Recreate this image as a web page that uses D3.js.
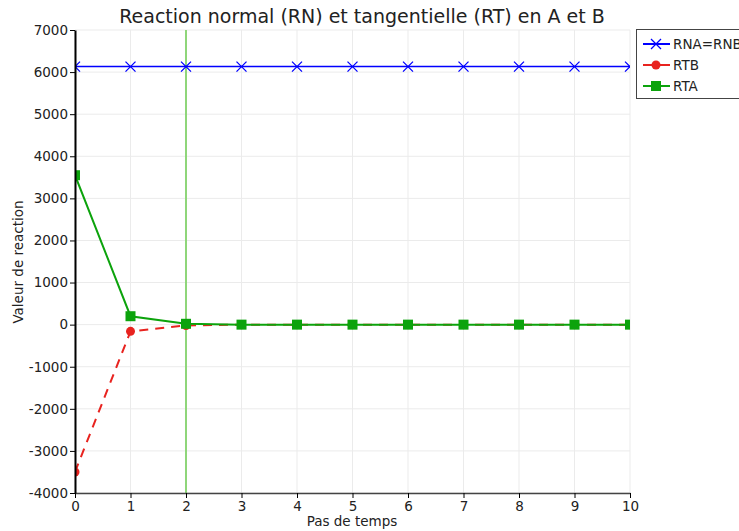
<!DOCTYPE html>
<html><head><meta charset="utf-8">
<script src="https://cdn.jsdelivr.net/npm/d3@7"></script>
<style>body{margin:0;background:#fff}svg{display:block}text{font-family:"DejaVu Sans",sans-serif}</style>
</head><body>
<script>
const steps = [0,1,2,3,4,5,6,7,8,9,10];
const rnValues = [6130,6130,6130,6130,6130,6130,6130,6130,6130,6130,6130];
const rtbValues = [-3500,-160,-20,0,0,0,0,0,0,0,0];
const rtaValues = [3550,200,20,0,0,0,0,0,0,0,0];
const yTicks = [-4000,-3000,-2000,-1000,0,1000,2000,3000,4000,5000,6000,7000];
const xTicks = [0,1,2,3,4,5,6,7,8,9,10];
const markerStep = 2;

const W=739,H=531;
const m={l:75,r:109,t:30,b:38};
const svg=d3.select("body").append("svg").attr("width",W).attr("height",H);
const x=d3.scaleLinear().domain([0,10]).range([m.l,W-m.r]);
const y=d3.scaleLinear().domain([-4000,7000]).range([H-m.b,m.t]);

svg.append("defs").append("clipPath").attr("id","clip").append("rect")
  .attr("x",m.l).attr("y",m.t).attr("width",x(10)-m.l).attr("height",y(-4000)-m.t);

// grid
const g=svg.append("g");
g.selectAll(".gx").data(xTicks).enter().append("line")
  .attr("x1",d=>x(d)).attr("x2",d=>x(d)).attr("y1",m.t).attr("y2",y(-4000))
  .attr("stroke","#ebebeb").attr("stroke-width",1);
g.selectAll(".gy").data(yTicks).enter().append("line")
  .attr("y1",d=>y(d)).attr("y2",d=>y(d)).attr("x1",m.l).attr("x2",x(10))
  .attr("stroke","#ebebeb").attr("stroke-width",1);

// vertical marker at time step
svg.append("line").attr("x1",x(markerStep)).attr("x2",x(markerStep))
  .attr("y1",m.t).attr("y2",y(-4000)).attr("stroke","#8fd67a").attr("stroke-width",2);

const plot=svg.append("g").attr("clip-path","url(#clip)");
const line=d3.line().x((d,i)=>x(steps[i])).y(d=>y(d));

// RTB
plot.append("path").datum(rtbValues).attr("d",line).attr("fill","none")
  .attr("stroke","#e8231f").attr("stroke-width",2).attr("stroke-dasharray","9,7");
plot.selectAll(".rtb").data(rtbValues).enter().append("circle")
  .attr("cx",(d,i)=>x(steps[i])).attr("cy",d=>y(d)).attr("r",4.5).attr("fill","#e8231f");

// RTA
plot.append("path").datum(rtaValues).attr("d",line).attr("fill","none")
  .attr("stroke","#0ca30c").attr("stroke-width",2);
plot.selectAll(".rta").data(rtaValues).enter().append("rect")
  .attr("x",(d,i)=>x(steps[i])-5).attr("y",d=>y(d)-5).attr("width",10).attr("height",10).attr("fill","#0ca30c");

// RN
plot.append("path").datum(rnValues).attr("d",line).attr("fill","none")
  .attr("stroke","#0000ff").attr("stroke-width",1.5);
plot.selectAll(".rn").data(rnValues).enter().append("path")
  .attr("d",(d,i)=>{const cx=x(steps[i]),cy=y(d),s=5;return `M${cx-s},${cy-s}L${cx+s},${cy+s}M${cx-s},${cy+s}L${cx+s},${cy-s}`;})
  .attr("stroke","#0000ff").attr("stroke-width",1.3);

// axes
const fmt=d=>String(d);
const xa=svg.append("g").attr("transform",`translate(0,${y(-4000)})`)
  .call(d3.axisBottom(x).tickValues(xTicks).tickFormat(fmt).tickSize(5).tickSizeOuter(0).tickPadding(3));
const ya=svg.append("g").attr("transform",`translate(${m.l},0)`)
  .call(d3.axisLeft(y).tickValues(yTicks).tickFormat(fmt).tickSize(5).tickSizeOuter(0).tickPadding(2));
[xa,ya].forEach(a=>{a.selectAll("text").attr("font-size",13.5).attr("fill","#222").style("font-family","'DejaVu Sans',sans-serif");
  a.select(".domain").attr("stroke","#000").attr("stroke-width",1.5);
  a.selectAll(".tick line").attr("stroke","#000");});
ya.select(".domain").attr("stroke-width",2);
xa.select(".domain").attr("stroke","#444");

// titles
svg.append("text").attr("x",362).attr("y",23).attr("text-anchor","middle")
  .attr("font-size",19).attr("fill","#222").text("Reaction normal (RN) et tangentielle (RT) en A et B");
svg.append("text").attr("x",352).attr("y",526).attr("text-anchor","middle")
  .attr("font-size",13.5).attr("fill","#222").text("Pas de temps");
svg.append("text").attr("transform","translate(23,262) rotate(-90)").attr("text-anchor","middle")
  .attr("font-size",13.5).attr("fill","#222").text("Valeur de reaction");

// legend
const lg=svg.append("g");
lg.append("rect").attr("x",636.5).attr("y",29.5).attr("width",110).attr("height",69)
  .attr("fill","#fff").attr("stroke","#444");
const items=[{n:"RNA=RNB",c:"#0000ff",m:"x"},{n:"RTB",c:"#e8231f",m:"c"},{n:"RTA",c:"#0ca30c",m:"s"}];
items.forEach((it,i)=>{
  const cy=44+i*21;
  lg.append("line").attr("x1",643).attr("x2",670).attr("y1",cy).attr("y2",cy).attr("stroke",it.c).attr("stroke-width",2);
  if(it.m==="x") lg.append("path").attr("d",`M651,${cy-5}L661,${cy+5}M651,${cy+5}L661,${cy-5}`).attr("stroke",it.c).attr("stroke-width",1.3);
  if(it.m==="c") lg.append("circle").attr("cx",656).attr("cy",cy).attr("r",4.5).attr("fill",it.c);
  if(it.m==="s") lg.append("rect").attr("x",651).attr("y",cy-5).attr("width",10).attr("height",10).attr("fill",it.c);
  lg.append("text").attr("x",673).attr("y",cy+5).attr("font-size",13.5).attr("fill","#222").text(it.n);
});
</script>
</body></html>
